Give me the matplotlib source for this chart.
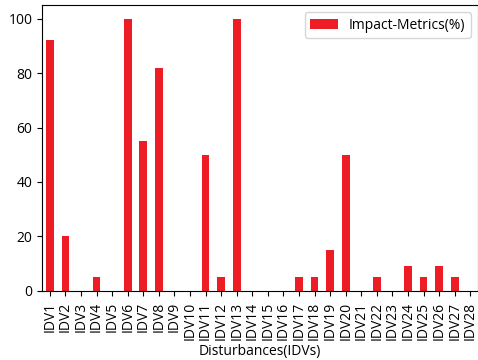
import matplotlib
matplotlib.use("Agg")
import matplotlib.pyplot as plt
import numpy as np

plt.rcParams['font.family'] = ['Open Sans', 'DejaVu Sans']

categories = [f"IDV{i}" for i in range(1, 29)]
impact = [92, 20, 0, 5, 0, 100, 55, 82, 0, 0, 50, 5, 100, 0,
          0, 0, 5, 5, 15, 50, 0, 5, 0, 9, 5, 9, 5, 0]
yticks = [0, 20, 40, 60, 80, 100]

fig = plt.figure(figsize=(4.78, 3.60), dpi=100)
ax = fig.add_axes([0.088, 0.192, 0.912, 0.794])
x = np.arange(len(categories))
ax.bar(x, impact, width=0.5, color='#ee1c25', label='Impact-Metrics(%)')
ax.set_xlim(-0.5, len(categories) - 0.5)
ax.set_ylim(0, 105)
ax.set_yticks(yticks)
ax.set_xticks(x)
ax.set_xticklabels(categories, rotation=90)
ax.tick_params(labelsize=10)
ax.tick_params(axis='x', pad=4.5)
ax.set_xlabel('Disturbances(IDVs)', fontsize=10, labelpad=3)
ax.legend(loc='upper right', fontsize=10)
fig.savefig('out.png', dpi=100)
